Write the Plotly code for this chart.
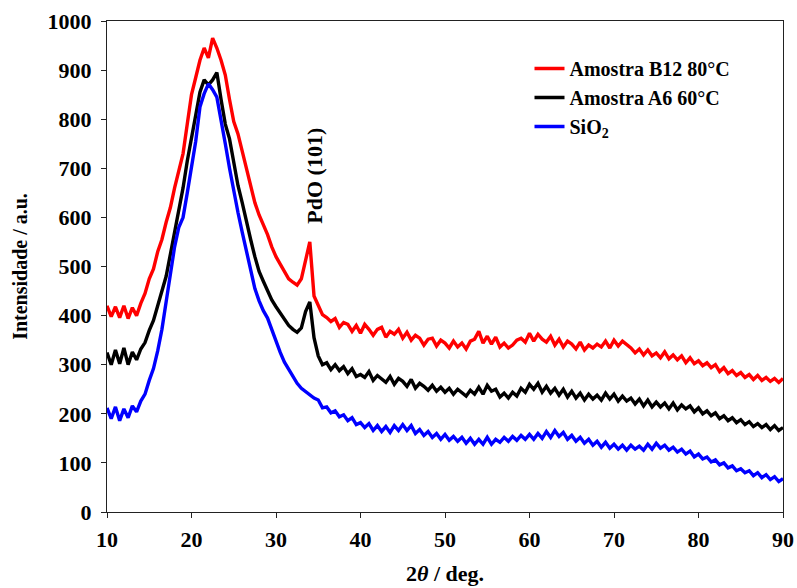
import plotly.graph_objects as go

two_theta = [
    10.0, 10.5, 11.0, 11.5, 12.0, 12.5, 13.0, 13.5, 14.0, 14.5,
    15.0, 15.5, 16.0, 16.5, 17.0, 17.5, 18.0, 18.5, 19.0, 19.5,
    20.0, 20.5, 21.0, 21.5, 22.0, 22.5, 23.0, 23.5, 24.0, 24.5,
    25.0, 25.5, 26.0, 26.5, 27.0, 27.5, 28.0, 28.5, 29.0, 29.5,
    30.0, 30.5, 31.0, 31.5, 32.0, 32.5, 33.0, 33.5, 34.0, 34.5,
    35.0, 35.5, 36.0, 36.5, 37.0, 37.5, 38.0, 38.5, 39.0, 39.5,
    40.0, 40.5, 41.0, 41.5, 42.0, 42.5, 43.0, 43.5, 44.0, 44.5,
    45.0, 45.5, 46.0, 46.5, 47.0, 47.5, 48.0, 48.5, 49.0, 49.5,
    50.0, 50.5, 51.0, 51.5, 52.0, 52.5, 53.0, 53.5, 54.0, 54.5,
    55.0, 55.5, 56.0, 56.5, 57.0, 57.5, 58.0, 58.5, 59.0, 59.5,
    60.0, 60.5, 61.0, 61.5, 62.0, 62.5, 63.0, 63.5, 64.0, 64.5,
    65.0, 65.5, 66.0, 66.5, 67.0, 67.5, 68.0, 68.5, 69.0, 69.5,
    70.0, 70.5, 71.0, 71.5, 72.0, 72.5, 73.0, 73.5, 74.0, 74.5,
    75.0, 75.5, 76.0, 76.5, 77.0, 77.5, 78.0, 78.5, 79.0, 79.5,
    80.0, 80.5, 81.0, 81.5, 82.0, 82.5, 83.0, 83.5, 84.0, 84.5,
    85.0, 85.5, 86.0, 86.5, 87.0, 87.5, 88.0, 88.5, 89.0, 89.5,
    90.0,
]

amostra_b12 = [
    420, 398, 418, 396, 420, 394, 416, 400, 425, 445,
    475, 495, 530, 555, 590, 620, 660, 695, 730, 790,
    850, 885, 920, 945, 925, 965, 945, 920, 890, 840,
    795, 770, 735, 700, 665, 630, 605, 585, 565, 540,
    520, 505, 490, 475, 468, 462, 475, 515, 550, 440,
    420, 402, 396, 388, 394, 376, 386, 382, 368, 380,
    364, 382, 372, 360, 372, 376, 356, 368, 362, 372,
    354, 366, 350, 360, 354, 340, 352, 354, 338, 350,
    344, 334, 348, 336, 344, 332, 348, 352, 368, 344,
    358, 342, 356, 336, 344, 334, 340, 350, 354, 346,
    364, 348, 362, 352, 346, 358, 340, 352, 336, 348,
    342, 332, 346, 330, 340, 334, 342, 336, 348, 334,
    350, 338, 348, 342, 334, 324, 332, 320, 330, 318,
    324, 314, 326, 312, 320, 310, 318, 304, 314, 302,
    308, 298, 304, 294, 300, 286, 294, 282, 288, 278,
    284, 274, 280, 270, 278, 268, 274, 266, 272, 264,
    272,
]

amostra_a6 = [
    325, 300, 330, 302, 334, 300, 326, 310, 332, 345,
    370, 390, 420, 450, 480, 525, 570, 615, 660, 715,
    765, 810, 855, 880, 870, 880, 895, 840, 790, 760,
    715, 665, 630, 590, 555, 520, 490, 470, 450, 432,
    418, 405, 392, 380, 372, 366, 375, 408, 428, 355,
    318, 300, 304, 290, 300, 288, 296, 282, 292, 276,
    280, 274, 286, 268, 278, 272, 264, 276, 260, 272,
    266, 256, 270, 252, 262, 256, 248, 258, 246, 254,
    244, 252, 240, 250, 244, 236, 248, 240, 254, 240,
    258, 246, 250, 234, 242, 232, 244, 236, 252, 244,
    260, 250, 262, 244, 256, 242, 252, 238, 250, 234,
    246, 232, 242, 228, 240, 230, 238, 228, 242, 230,
    240, 226, 236, 226, 232, 220, 230, 216, 228, 214,
    224, 214, 222, 210, 222, 208, 218, 210, 216, 204,
    212, 200, 206, 196, 202, 190, 196, 186, 192, 182,
    188, 178, 184, 174, 180, 172, 178, 168, 176, 166,
    172,
]

sio2 = [
    212, 190, 214, 186, 210, 192, 216, 204, 226, 240,
    268, 292, 328, 372, 428, 482, 540, 580, 600, 650,
    705, 755, 825, 852, 872, 860, 845, 800, 750, 700,
    650, 610, 570, 530, 490, 455, 430, 410, 395, 370,
    345, 325, 305, 290, 275, 262, 252, 245, 238, 232,
    228, 212, 214, 202, 206, 194, 198, 186, 192, 178,
    182, 172, 180, 166, 176, 164, 174, 162, 176, 166,
    178, 166, 176, 160, 168, 156, 164, 152, 160, 148,
    158, 146, 154, 144, 152, 140, 150, 138, 148, 138,
    152, 138, 148, 142, 152, 144, 154, 146, 156, 148,
    158, 148, 160, 150, 164, 152, 166, 154, 162, 148,
    156, 144, 152, 140, 148, 136, 144, 132, 142, 130,
    138, 128, 136, 126, 136, 128, 134, 126, 138, 128,
    140, 130, 136, 126, 132, 122, 128, 118, 124, 112,
    118, 108, 112, 102, 106, 96, 100, 90, 94, 84,
    88, 80, 84, 74, 80, 70, 76, 66, 72, 62,
    68,
]

series_names = ["Amostra B12 80°C", "Amostra A6 60°C", "SiO<sub>2</sub>"]
series_colors = ["#FF0000", "#000000", "#0000FF"]
x_ticks = [10, 20, 30, 40, 50, 60, 70, 80, 90]
y_ticks = [0, 100, 200, 300, 400, 500, 600, 700, 800, 900, 1000]

FONT = "Liberation Serif, Times New Roman, serif"

fig = go.Figure()
for name, ys, col in zip(series_names, [amostra_b12, amostra_a6, sio2], series_colors):
    fig.add_trace(go.Scatter(
        x=two_theta, y=ys, mode="lines", name=name,
        line=dict(color=col, width=3.4),
    ))

fig.add_annotation(
    x=34.56, y=684, text="PdO (101)", textangle=-90, showarrow=False,
    font=dict(family=FONT, size=22, color="black", weight="bold"),
)

axis_common = dict(
    showgrid=False, zeroline=False, showline=True, linecolor="#222222",
    linewidth=1, mirror=True, ticks="outside", ticklen=5, tickcolor="#222222",
    tickfont=dict(family=FONT, size=22, color="black", weight="bold"),
    automargin=False,
)

fig.update_layout(
    width=797, height=588,
    margin=dict(l=107, r=14, t=21, b=76),
    paper_bgcolor="white", plot_bgcolor="white",
    font=dict(family=FONT, color="black"),
    showlegend=True,
    legend=dict(
        x=0.625, y=0.943, xanchor="left", yanchor="top",
        bgcolor="rgba(0,0,0,0)", borderwidth=0,
        font=dict(family=FONT, size=20, color="black", weight="bold"),
        tracegroupgap=0,
    ),
    xaxis=dict(
        range=[10, 90], tickvals=x_ticks, ticklabelstandoff=3,
        title=dict(text="2<i>θ</i> / deg.", standoff=14,
                   font=dict(family=FONT, size=22, color="black", weight="bold")),
        **axis_common,
    ),
    yaxis=dict(
        range=[0, 1000], tickvals=y_ticks, ticklabelstandoff=5,
        title=dict(text="Intensidade / a.u.", standoff=14,
                   font=dict(family=FONT, size=20, color="black", weight="bold")),
        **axis_common,
    ),
)

fig.write_html("out.html")
